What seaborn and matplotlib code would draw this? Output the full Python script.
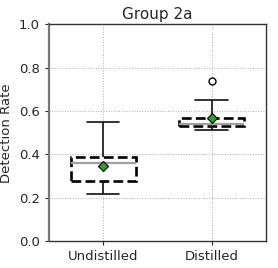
import matplotlib
matplotlib.use('Agg')
import matplotlib.pyplot as plt
import pandas as pd
import seaborn as sns

# values chosen so quartiles / whiskers / means match the reference
undistilled = [0.218, 0.24, 0.276, 0.31, 0.361, 0.37, 0.390, 0.399, 0.550]
distilled = [0.511, 0.511, 0.531, 0.531, 0.542, 0.542, 0.570, 0.65, 0.739]
categories = ['Undistilled', 'Distilled']
title = 'Group 2a'

df = pd.DataFrame({
    'model': [categories[0]] * len(undistilled) + [categories[1]] * len(distilled),
    'rate': undistilled + distilled,
})

sns.set_style('white')
plt.rcParams['font.family'] = ['DejaVu Sans']

fig = plt.figure(figsize=(2.78, 2.68), dpi=100)
ax = fig.add_axes([0.176, 0.1007, 0.781, 0.808])

sns.boxplot(
    data=df, x='model', y='rate', order=categories, ax=ax,
    width=0.6, whis=2.5, showmeans=True,
    boxprops=dict(facecolor='white', edgecolor='black', linestyle='--', linewidth=1.9),
    medianprops=dict(color='#a0a0a0', linewidth=1.6, linestyle='-'),
    whiskerprops=dict(color='#111111', linewidth=1.2, linestyle='-'),
    capprops=dict(color='#111111', linewidth=1.2, linestyle='-'),
    meanprops=dict(marker='D', markerfacecolor='#2ca02c', markeredgecolor='black',
                   markersize=5.5, markeredgewidth=0.8),
    flierprops=dict(marker='o', markerfacecolor='white', markeredgecolor='black',
                    markersize=5, markeredgewidth=1.0),
)

ax.set_ylim(0, 1.0)
ax.set_xlim(-0.5, 1.5)
ax.set_yticks([0.0, 0.2, 0.4, 0.6, 0.8, 1.0])
ax.grid(True, linestyle=':', color='#b0b0b0', linewidth=0.7)
ax.set_axisbelow(True)
ax.set_title(title, fontsize=11, pad=4)
ax.set_xlabel('')
ax.set_ylabel('Detection Rate', fontsize=9.5)
ax.tick_params(axis='both', labelsize=9.5, length=3, width=0.8, left=True, bottom=True)
for side in ['top', 'right', 'bottom']:
    ax.spines[side].set_color('#333333')
    ax.spines[side].set_linewidth(1.0)
ax.spines['left'].set_color('#777777')
ax.spines['left'].set_linewidth(1.6)

fig.savefig('out.png', dpi=100)
